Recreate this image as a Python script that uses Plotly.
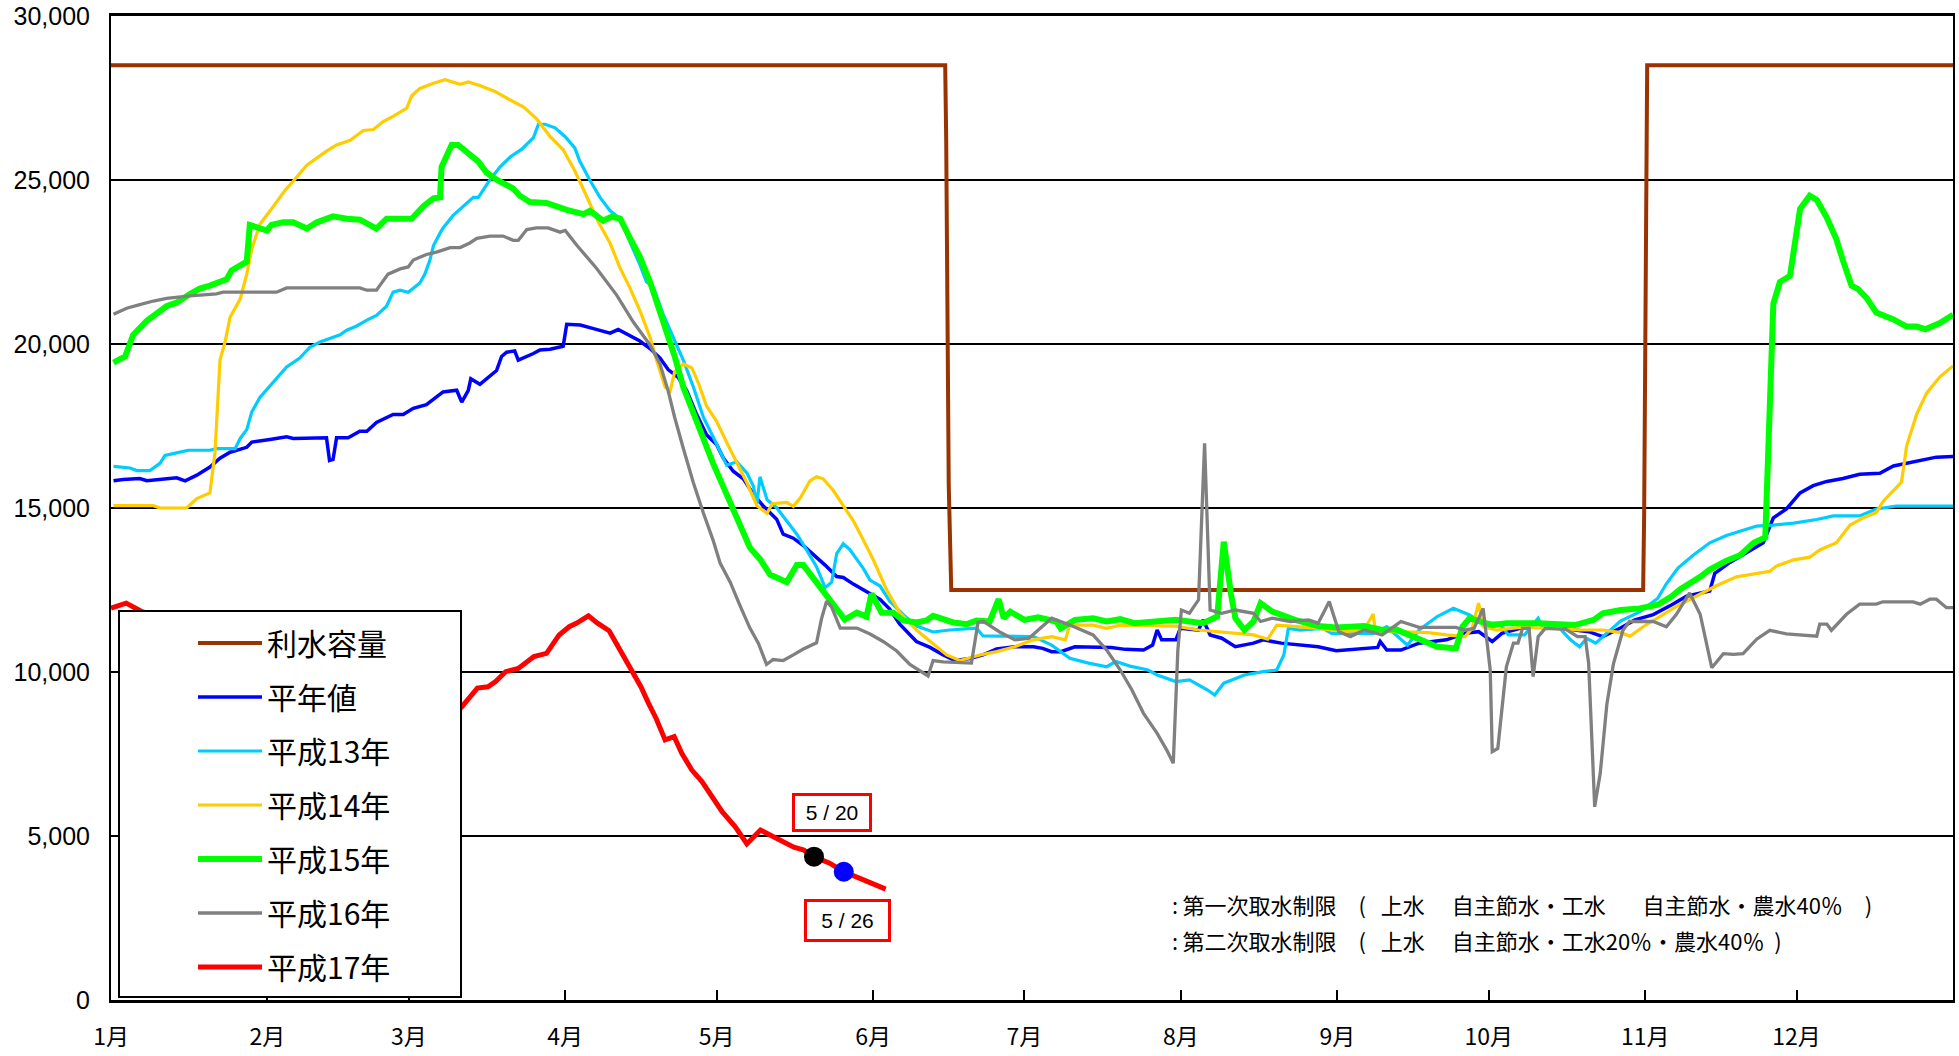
import plotly.graph_objects as go

# ---------------- data (day of year, 0 = Jan 1) ----------------
month_ticks = [0, 31, 59, 90, 120, 151, 181, 212, 243, 273, 304, 334]
month_labels = ["1月", "2月", "3月", "4月", "5月", "6月", "7月", "8月", "9月", "10月", "11月", "12月"]

names = ["利水容量", "平年値", "平成13年", "平成14年", "平成15年", "平成16年", "平成17年"]

capacity_day = [0, 165.3, 165.5, 166.0, 166.5, 303.6, 303.8, 304.3, 304.4, 365]
capacity_val = [28500, 28500, 26200, 15700, 12500, 12500, 14800, 27300, 28500, 28500]

normal_day = [0.5, 2.4, 5.7, 7.1, 13, 14.7, 17, 19.6, 21.6, 23.6, 26.9, 27.9, 31.5, 34.8, 36.1, 42.7, 43.3, 44, 44.7, 47,
              49.3, 50.7, 52.6, 54, 55.9, 57.9, 59.9, 62.5, 63.9, 65.8, 68.5, 69.5, 70.8, 71.3, 73.1, 76.4, 77.4, 78.4, 80, 80.7,
              83.7, 85, 87, 89.6, 90.3, 93, 95.6, 98.9, 100.5, 102.8, 104.8, 106.8, 108.8, 110.4, 112.4, 114.1, 116, 118, 120, 121.3,
              123.3, 125.3, 127.3, 129.2, 131.9, 133.2, 135.2, 137.2, 139.8, 141.5, 143.8, 145.1, 147.1, 149.7, 152.4, 154.3, 156.3, 159.6, 162.3, 164.9,
              167.2, 170.2, 172.8, 175.5, 179.1, 182.8, 184.6, 186.4, 188.2, 191, 195.5, 198.2, 201, 204.6, 206.4, 207.3, 208.2, 211, 211.9, 215.5,
              216.4, 217.8, 220.1, 222.8, 226.4, 228.3, 231.9, 235.6, 239.2, 242.8, 247.4, 251, 251.5, 252.8, 255.6, 259.2, 261.9, 264.6, 266.5, 268.3,
              271, 273.7, 275.6, 279.2, 282.8, 286.5, 290.1, 292.8, 295.6, 299.2, 302, 305.6, 309.2, 312.2, 316.8, 317.8, 320.8, 324.8, 327.4, 329.4,
              332, 334.7, 337.3, 340, 343.2, 346.5, 350.5, 353.2, 355.8, 358.5, 361.7, 365]
normal_val = [15830, 15870, 15900, 15830, 15920, 15830, 16000, 16250, 16520, 16700, 16850, 17010, 17090, 17170, 17120, 17140, 16450, 16480, 17140, 17140,
              17340, 17340, 17610, 17720, 17850, 17850, 18040, 18150, 18320, 18540, 18590, 18230, 18590, 18940, 18770, 19190, 19620, 19750, 19790, 19510,
              19710, 19820, 19840, 19930, 20600, 20580, 20470, 20330, 20440, 20260, 20090, 19860, 19570, 19220, 18980, 18570, 17870, 17230, 16940, 16530,
              16120, 15890, 15420, 15070, 14660, 14200, 14080, 13850, 13500, 13260, 12910, 12880, 12680, 12450, 12210, 11920, 11460, 10930, 10750, 10520,
              10350, 10410, 10520, 10700, 10770, 10770, 10720, 10620, 10620, 10770, 10770, 10750, 10690, 10670, 10820, 11280, 10980, 10980, 11330, 11280,
              11590, 11130, 11030, 10770, 10880, 10980, 10880, 10820, 10770, 10650, 10720, 10750, 10930, 10670, 10670, 10880, 10930, 10980, 11080, 11180,
              11230, 10930, 11180, 11330, 11540, 11360, 11280, 11230, 11080, 11350, 11590, 11750, 12040, 12310, 12470, 13010, 13340, 13720, 13940, 14700,
              14970, 15460, 15680, 15810, 15900, 16030, 16060, 16280, 16360, 16440, 16550, 16570]

h13_day = [0.5, 3.8, 5.1, 7.7, 9.7, 10.7, 13, 15.3, 19.6, 20.9, 24.6, 25.6, 26.9, 27.9, 29.5, 32.2, 34.8, 37.4, 39.4, 41.4,
           45.4, 46.7, 48.7, 50.7, 52.6, 54.6, 55.9, 57.3, 58.9, 61.2, 62.2, 63.2, 63.9, 65.2, 65.8, 67.8, 70.5, 71.8, 72.8, 75.1,
           77.1, 79.1, 81.4, 83.7, 84.7, 86, 88, 90, 91.9, 92.9, 94.9, 96.9, 98.9, 100.9, 102.8, 104.8, 106.1, 107.5, 109.4, 111.4,
           113.4, 115.4, 117.4, 119.3, 122, 124, 126, 127.3, 128, 128.6, 130, 131.9, 133.9, 135.9, 137.8, 139.8, 141.5, 142.8, 143.8, 145.1,
           146.4, 149.1, 150.4, 152.4, 154.3, 157, 159.6, 162.9, 166.2, 170.2, 171.5, 172.8, 177.3, 182.8, 186.4, 190, 193.7, 197.3, 199.1, 201.9,
           205.5, 207.3, 211, 213.7, 217.3, 218.7, 220.5, 224.6, 228.3, 231, 232.4, 233.3, 235.6, 240.1, 241.9, 250.1, 252.8, 254.6, 256.9, 259.2,
           262.8, 266, 269.2, 271.9, 275.1, 276.9, 280.1, 282.8, 283.7, 286.5, 289.2, 291, 292.4, 294.2, 299.1, 302.9, 306.5, 308.2, 310.5, 313.5,
           316.8, 320.1, 323.4, 326.1, 329.4, 333.4, 338, 341.3, 346.5, 349.8, 353.8, 365]
h13_val = [16270, 16220, 16140, 16140, 16360, 16600, 16680, 16760, 16760, 16810, 16810, 17120, 17390, 17930, 18370, 18860, 19300, 19570, 19900, 20060,
           20280, 20420, 20550, 20730, 20870, 21150, 21580, 21640, 21580, 21860, 22130, 22560, 23000, 23380, 23540, 23920, 24300, 24470, 24470, 25010,
           25400, 25700, 25940, 26290, 26700, 26700, 26590, 26320, 25980, 25570, 24990, 24470, 24060, 23820, 23120, 22420, 21900, 21720, 20910, 20210,
           19510, 18690, 17760, 17170, 16300, 16410, 16070, 15660, 15130, 15950, 15250, 15010, 14610, 14200, 13730, 13210, 12570, 12740, 13610, 13910,
           13730, 13150, 12800, 12620, 12160, 11750, 11400, 11220, 11280, 11340, 11340, 11100, 11100, 11080, 10820, 10420, 10270, 10160, 10320, 10180,
           10060, 9910, 9710, 9760, 9450, 9300, 9660, 9910, 10010, 10060, 10520, 11330, 11280, 11330, 11180, 11180, 11380, 11130, 10820, 11280,
           11690, 11940, 11740, 11490, 11490, 11130, 11130, 11640, 11330, 11430, 10980, 10770, 11030, 10880, 11550, 11830, 12250, 12690, 13170, 13560,
           13940, 14160, 14320, 14450, 14480, 14540, 14650, 14760, 14760, 14970, 15060, 15060]

h14_day = [0.5, 8.4, 9.7, 15, 17, 19.6, 20.6, 21.6, 22.6, 23.6, 25.6, 26.9, 27.9, 29.5, 32.2, 34.5, 36.1, 38.8, 42.7, 44.7,
           47.4, 50, 52, 54, 55.9, 58.6, 59.6, 61.2, 63.9, 66.2, 69.2, 70.8, 73.1, 76.1, 79.1, 81.7, 84.3, 87, 89.6, 91.9,
           94.2, 96.6, 98.9, 100.9, 102.8, 104.8, 106.8, 108.1, 109.8, 110.8, 111.7, 113.4, 115.1, 116.4, 118, 120, 122, 124, 126, 128,
           130, 131, 133.9, 135.2, 136.6, 138.5, 139.8, 141.1, 143.1, 145.1, 147.1, 149.1, 151, 153.7, 156.3, 159.6, 162.9, 165.6, 168.2, 172.2,
           175.5, 179.1, 182.8, 186.4, 189.1, 190, 194.6, 197.3, 200, 206.4, 211, 215.5, 221, 226.4, 229.2, 231, 233.7, 239.2, 244.6, 248.3,
           250.1, 250.5, 254.6, 261, 264.6, 268.3, 269.7, 271, 271.9, 274.6, 279.2, 286.5, 291, 295.6, 299.2, 301, 303.6, 306.5, 310.2, 314.1,
           318.1, 322.1, 326.1, 328.7, 330, 333.4, 336.6, 338.6, 341.9, 344.6, 347.2, 349.8, 351.1, 354.8, 355.8, 357.8, 359.8, 362.4, 365]
h14_val = [15070, 15070, 15000, 15000, 15290, 15460, 16680, 19510, 20060, 20820, 21370, 22130, 22890, 23650, 24200, 24690, 24960, 25450, 25880, 26070,
           26210, 26510, 26540, 26790, 26940, 27190, 27570, 27790, 27950, 28060, 27920, 27990, 27880, 27700, 27440, 27230, 26870, 26330, 25920, 25280,
           24520, 23710, 23070, 22310, 21720, 21020, 20210, 19510, 18690, 18570, 19160, 19390, 19270, 18810, 18110, 17640, 17000, 16410, 15770, 15070,
           14840, 15130, 15170, 15050, 15310, 15830, 15950, 15890, 15540, 15070, 14610, 14020, 13440, 12500, 11810, 11280, 10870, 10520, 10350, 10520,
           10620, 10770, 10980, 11080, 10980, 11430, 11430, 11330, 11430, 11400, 11400, 11280, 11200, 11130, 11000, 11430, 11400, 11330, 11230, 11280,
           11770, 11280, 11230, 11200, 11130, 11080, 11330, 12100, 11380, 11280, 11360, 11330, 11280, 11280, 11200, 11090, 11380, 11650, 12000, 12310,
           12630, 12900, 13010, 13070, 13230, 13420, 13500, 13720, 13940, 14480, 14700, 14860, 15190, 15790, 16880, 17860, 18510, 19000, 19330]

h15_day = [0.5, 2.8, 4.4, 7.1, 11, 13, 15.7, 17.6, 19.6, 22.9, 23.9, 26.9, 27.5, 29.5, 30.9, 31.8, 34.1, 36.1, 38.8, 40.8,
           44, 46.7, 49.3, 52.6, 54.6, 59.6, 61.9, 63.9, 65.2, 65.5, 67.5, 68.8, 69.8, 72.8, 74.4, 76.4, 79.7, 81, 83, 86.3,
           90.3, 93.6, 94.9, 97.5, 99.2, 100.9, 102.8, 104.8, 106.8, 108.8, 110.1, 111.7, 113.4, 115.4, 117.4, 119.3, 121.3, 123.3, 125.3, 126.6,
           128.6, 130.6, 133.9, 135.9, 137.2, 139.2, 141.8, 143.8, 145.4, 147.8, 149.7, 150.7, 152.7, 155, 157, 159.6, 161.6, 162.9, 164.9, 166.9,
           169.6, 171.5, 174.1, 175.9, 176.9, 178.2, 181, 183.7, 187.3, 188.2, 191, 194.6, 197.3, 200, 202.8, 206.4, 211, 213.7, 216.4, 219.2,
           220.5, 221.9, 222.8, 224.6, 226.4, 227.8, 230.1, 231.9, 234.6, 239.2, 242.8, 248.3, 251.9, 254.6, 259.2, 262.8, 266.5, 267.8, 269.2, 271.9,
           273.7, 276.5, 282.8, 290.1, 293.8, 295.6, 299.2, 302.9, 306.5, 309.2, 310.9, 314.9, 316.8, 320.1, 322.8, 325.5, 327.8, 329.4, 330.7, 332.7,
           334.7, 336.6, 338, 340, 341.9, 343.2, 344.9, 346.2, 347.9, 349.8, 353.2, 355.8, 357.8, 359.5, 362.4, 365]
h15_val = [19430, 19620, 20280, 20710, 21150, 21260, 21530, 21690, 21780, 21970, 22240, 22510, 23630, 23540, 23460, 23630, 23710, 23710, 23520, 23710,
           23890, 23820, 23790, 23520, 23820, 23820, 24200, 24440, 24470, 25400, 26070, 26070, 25940, 25560, 25230, 25010, 24740, 24520, 24330, 24300,
           24090, 23960, 24060, 23760, 23880, 23820, 23240, 22660, 21900, 21020, 20440, 19620, 18690, 17870, 17060, 16360, 15660, 14960, 14250, 13790,
           13440, 12970, 12740, 13260, 13260, 12860, 12390, 11920, 11600, 11810, 11690, 12390, 11810, 11810, 11570, 11510, 11570, 11710, 11630, 11510,
           11460, 11570, 11540, 12220, 11640, 11840, 11590, 11670, 11540, 11330, 11590, 11640, 11540, 11610, 11490, 11540, 11590, 11540, 11490, 11690,
           13970, 12400, 11640, 11280, 11540, 12100, 11840, 11740, 11590, 11400, 11360, 11400, 11280, 11300, 11030, 10770, 10720, 11380, 11640, 11540,
           11430, 11490, 11490, 11430, 11590, 11790, 11890, 11940, 12050, 12300, 12520, 12900, 13120, 13390, 13560, 13940, 14100, 21230, 21890, 22080,
           24120, 24520, 24390, 23850, 23190, 22540, 21780, 21670, 21400, 20960, 20750, 20530, 20530, 20450, 20640, 20890]

h16_day = [0.5, 3.1, 5.7, 8.4, 11, 15.7, 20.9, 22.2, 32.8, 34.8, 49.3, 50.7, 52.6, 54.9, 57.3, 58.9, 59.9, 62.5, 64.5, 67.2,
           69.2, 71.1, 72.5, 75.1, 77.7, 79.7, 80.7, 82.4, 84.3, 86.6, 89, 90, 92.3, 96.2, 100.2, 103.5, 106.8, 108.8, 110.4, 111.7,
           113.4, 115.4, 117.4, 119.3, 120.7, 122.7, 124.6, 126.6, 128.3, 129.9, 131.2, 133.2, 135.2, 137.2, 139.8, 140.8, 141.8, 142.8, 144.5, 147.8,
           150.4, 153, 155.7, 158.3, 161.9, 162.9, 164.9, 168.9, 170.5, 171.8, 172.8, 176.1, 179.1, 181.9, 186.4, 190, 194.6, 197.3, 200, 202.3,
           204.6, 207.3, 209.2, 210.5, 211.4, 212.1, 213.7, 215.5, 216.7, 217.8, 220.1, 222.8, 226.4, 227.8, 230.1, 233.7, 237.3, 239.2, 241.4, 243.3,
           245.6, 248.3, 251.9, 255.6, 259.2, 266.5, 268.3, 270.1, 271.9, 273.3, 273.7, 274.8, 276.5, 277.9, 278.8, 279.7, 281, 281.8, 282.8, 284.2,
           288.3, 290.6, 292.1, 292.8, 294, 295.1, 296.4, 297.7, 299.6, 300.9, 305.6, 308.2, 310.2, 312.8, 314.9, 317.2, 319.5, 321.5, 323.4, 326.1,
           328.7, 332, 336, 338, 338.6, 340, 340.9, 343.9, 346.5, 349.8, 351.1, 357.1, 358.5, 360.4, 361.7, 363.7, 365]
h16_val = [20910, 21090, 21200, 21310, 21390, 21470, 21530, 21580, 21580, 21710, 21710, 21640, 21640, 22130, 22290, 22350, 22560, 22730, 22800, 22940,
           22940, 23080, 23220, 23290, 23290, 23160, 23160, 23490, 23540, 23540, 23410, 23460, 23010, 22310, 21490, 20670, 19970, 19390, 18570, 17760,
           16820, 15770, 14840, 14020, 13320, 12740, 12040, 11340, 10870, 10230, 10380, 10350, 10520, 10700, 10890, 11630, 12160, 11980, 11340, 11340,
           11160, 10930, 10640, 10230, 9880, 10350, 10310, 10290, 10270, 11510, 11550, 11220, 10980, 11030, 11640, 11430, 11130, 10670, 10060, 9450,
           8740, 8130, 7620, 7220, 10670, 11890, 11790, 12200, 16970, 11890, 11790, 11890, 11790, 11540, 11640, 11540, 11590, 11490, 12150, 11230,
           11080, 11280, 11130, 11540, 11360, 11360, 11280, 11330, 11940, 10060, 7570, 7670, 10160, 10880, 10880, 11330, 11330, 9860, 11080, 11330,
           11300, 11080, 11080, 10270, 5890, 6910, 9000, 10240, 11270, 11540, 11540, 11380, 11760, 12410, 11760, 10130, 10560, 10540, 10560, 11000,
           11270, 11160, 11110, 11090, 11460, 11460, 11270, 11760, 12070, 12070, 12140, 12140, 12070, 12220, 12220, 11960, 11960]

h17_day = [0, 3, 6, 69.5, 72.6, 74.7, 76.2, 78.2, 80.7, 83.8, 86.3, 88.8, 90.8, 92.3, 94.6, 96.4, 98.7, 100.9, 103, 105,
           106.5, 108, 109.8, 111.6, 113.1, 115.1, 117.1, 119.1, 121.1, 123.7, 126, 128.7, 132.3, 135.3, 137.3, 139.3, 142.4, 145.2, 148.4, 151,
           153.5]
h17_val = [11950, 12100, 11850, 8940, 9510, 9550, 9710, 10010, 10110, 10470, 10570, 11130, 11380, 11490, 11710, 11490, 11260, 10670, 10110, 9550,
           9050, 8590, 7930, 8030, 7520, 7010, 6660, 6200, 5740, 5280, 4760, 5180, 4880, 4660, 4570, 4370, 4170, 3910, 3710, 3560,
           3380]

mark_day = [139.3, 145.2]          # 5/20 and 5/26
mark_val = [4370, 3910]
mark_text = ["5 / 20", "5 / 26"]

NB = "\u00a0"
notes = [":\u2009第一次取水制限　(" + NB * 3 + "上水　" + NB + "自主節水・工水　" + NB * 3 + "自主節水・農水40％　)",
         ":\u2009第二次取水制限　(" + NB * 3 + "上水　" + NB + "自主節水・工水20％・農水40％" + NB * 2 + ")"]

# ---------------- figure ----------------
colors = ["#993300", "#0000FF", "#00CCFF", "#FFCC00", "#00FF00", "#808080", "#FF0000"]
widths = [4, 3.5, 3.2, 3.2, 6, 3.3, 5]
series = [(capacity_day, capacity_val), (normal_day, normal_val), (h13_day, h13_val), (h14_day, h14_val),
          (h15_day, h15_val), (h16_day, h16_val), (h17_day, h17_val)]

fig = go.Figure()
for i, (d, v) in enumerate(series):
    fig.add_trace(go.Scatter(x=d, y=v, mode="lines", name=names[i], legendgroup=names[i],
                             line=dict(color=colors[i], width=widths[i])))

fig.add_trace(go.Scatter(x=mark_day[:1], y=mark_val[:1], mode="markers", showlegend=False,
                         marker=dict(color="#000000", size=20)))
fig.add_trace(go.Scatter(x=mark_day[1:], y=mark_val[1:], mode="markers", showlegend=False,
                         marker=dict(color="#0000FF", size=20)))

W, H = 1959, 1056
L, R, T, B = 111, 6, 16, 56
pw, ph = W - L - R, H - T - B


def px(xp):   # page x pixel -> paper
    return (xp - L) / pw


def py(yp):   # page y pixel -> paper
    return (H - B - yp) / ph


# legend frame (drawn above traces, below legend)
fig.add_shape(type="rect", xref="paper", yref="paper", x0=px(119), x1=px(461), y0=py(997), y1=py(611),
              fillcolor="white", line=dict(color="black", width=2), layer="above")

annos = []
annos.append(dict(x=mark_day[0] + 3.6, y=5720, xref="x", yref="y", text=mark_text[0], showarrow=False,
                  font=dict(family="Liberation Sans", size=21, color="black"),
                  bordercolor="#FF0000", borderwidth=3, borderpad=0, bgcolor="white", width=74, height=33))
annos.append(dict(x=mark_day[1] + 0.7, y=2420, xref="x", yref="y", text=mark_text[1], showarrow=False,
                  font=dict(family="Liberation Sans", size=21, color="black"),
                  bordercolor="#FF0000", borderwidth=3, borderpad=0, bgcolor="white", width=81, height=37))
for k, t in enumerate(notes):
    annos.append(dict(x=px(1170), y=py(904 + 36 * k), xref="paper", yref="paper", text=t, showarrow=False,
                      xanchor="left", yanchor="middle",
                      font=dict(family="Noto Sans CJK JP", size=22, color="black")))

fig.update_layout(
    width=W, height=H,
    margin=dict(l=L, r=R, t=T, b=B, pad=0, autoexpand=False),
    paper_bgcolor="white", plot_bgcolor="white",
    showlegend=True,
    legend=dict(x=px(193), y=py(617), xanchor="left", yanchor="top",
                bgcolor="rgba(0,0,0,0)", borderwidth=0, tracegroupgap=12, itemwidth=64,
                font=dict(family="Noto Sans CJK JP", size=30, color="black")),
    annotations=annos,
    xaxis=dict(range=[0, 365], tickmode="array", tickvals=month_ticks, ticktext=month_labels,
               ticks="inside", ticklen=10, tickwidth=1.5, tickcolor="black", automargin=False,
               showgrid=False, zeroline=False, showline=True, linecolor="black", linewidth=3, mirror=True,
               tickfont=dict(family="Noto Sans CJK JP", size=23, color="black"), ticklabelstandoff=14),
    yaxis=dict(range=[0, 30000], tickmode="linear", tick0=0, dtick=5000, tickformat=",", automargin=False,
               showgrid=True, gridcolor="black", gridwidth=1.5, zeroline=False,
               showline=True, linecolor="black", linewidth=2, mirror=True, ticks="",
               tickfont=dict(family="Liberation Sans", size=25, color="black"), ticklabelstandoff=14),
)

# remove the browser's default 8px body margin so the figure fills the window exactly
fig.write_html("out.html", config={"displayModeBar": False},
               post_script="document.body.style.margin='0';document.body.style.overflow='hidden';")
